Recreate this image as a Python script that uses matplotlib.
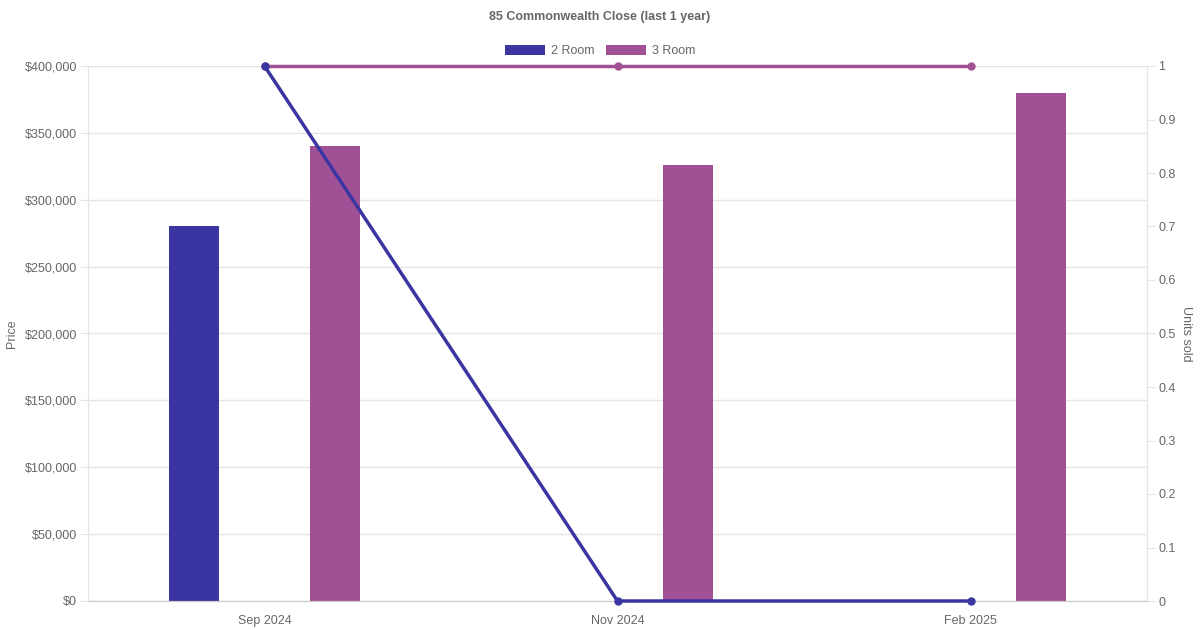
import numpy as np
import matplotlib
matplotlib.use("Agg")
import matplotlib.pyplot as plt
from matplotlib.patches import Patch
from matplotlib.ticker import FuncFormatter, MultipleLocator

plt.rcParams["font.family"] = ["Liberation Sans", "DejaVu Sans"]

months = ["Sep 2024", "Nov 2024", "Feb 2025"]
price_2room = [280000, np.nan, np.nan]
price_3room = [340000, 326000, 380000]
units_2room = [1, 0, 0]
units_3room = [1, 1, 1]

C2 = "#3a35a0"
C3 = "#a05195"
TXT = "#666666"
GRID = "#e5e5e5"

fig = plt.figure(figsize=(12, 6.3), dpi=100)
ax = fig.add_axes([88 / 1200, 1 - 601 / 630, (1147 - 88) / 1200, (601 - 66) / 630])
ax2 = ax.twinx()

x = np.arange(len(months))
bw = 0.142
ax.bar(x - 0.2, price_2room, width=bw, color=C2, zorder=2)
ax.bar(x + 0.2, price_3room, width=bw, color=C3, zorder=2)

ax.set_xlim(-0.5, 2.5)
ax.set_ylim(0, 400000)
ax.yaxis.set_major_locator(MultipleLocator(50000))
ax.yaxis.set_major_formatter(FuncFormatter(lambda v, p: f"${v:,.0f}"))
ax.grid(axis="y", color=GRID, lw=1, zorder=0)
ax.set_xticks(x)
ax.set_xticklabels(months)
ax.tick_params(axis="x", length=0, pad=10, labelsize=9, labelcolor=TXT)
ax.tick_params(axis="y", length=6, color=GRID, pad=2, labelsize=9, labelcolor=TXT)
ax.set_ylabel("Price", color=TXT, fontsize=9, labelpad=5)

ax2.set_ylim(0, 1)
ax2.yaxis.set_major_locator(MultipleLocator(0.1))
ax2.yaxis.set_major_formatter(FuncFormatter(lambda v, p: f"{v:g}"))
ax2.tick_params(axis="y", length=6, color=GRID, pad=2, labelsize=9, labelcolor=TXT)
ax2.set_ylabel("Units sold", color=TXT, fontsize=9, rotation=-90, labelpad=12)

ax2.plot(x, units_3room, color=C3, lw=2.5, marker="o", ms=5, zorder=3, clip_on=False)
ax2.plot(x, units_2room, color=C2, lw=2.5, marker="o", ms=5, zorder=3, clip_on=False)

for a in (ax, ax2):
    a.spines["top"].set_visible(False)
    for s in ("left", "right"):
        a.spines[s].set_color(GRID)
    a.spines["bottom"].set_color("#cccccc")

fig.text(0.5, 1 - 17 / 630, "85 Commonwealth Close (last 1 year)", ha="center", va="center",
         fontsize=9, fontweight="bold", color=TXT)

handles = [Patch(facecolor=C2, label="2 Room"), Patch(facecolor=C3, label="3 Room")]
fig.legend(handles=handles, loc="center", bbox_to_anchor=(0.5, 1 - 51 / 630), ncol=2,
           frameon=False, fontsize=9, labelcolor=TXT, handlelength=3.2, handleheight=0.95,
           handletextpad=0.5, columnspacing=0.9)

fig.savefig("out.png", dpi=100)
